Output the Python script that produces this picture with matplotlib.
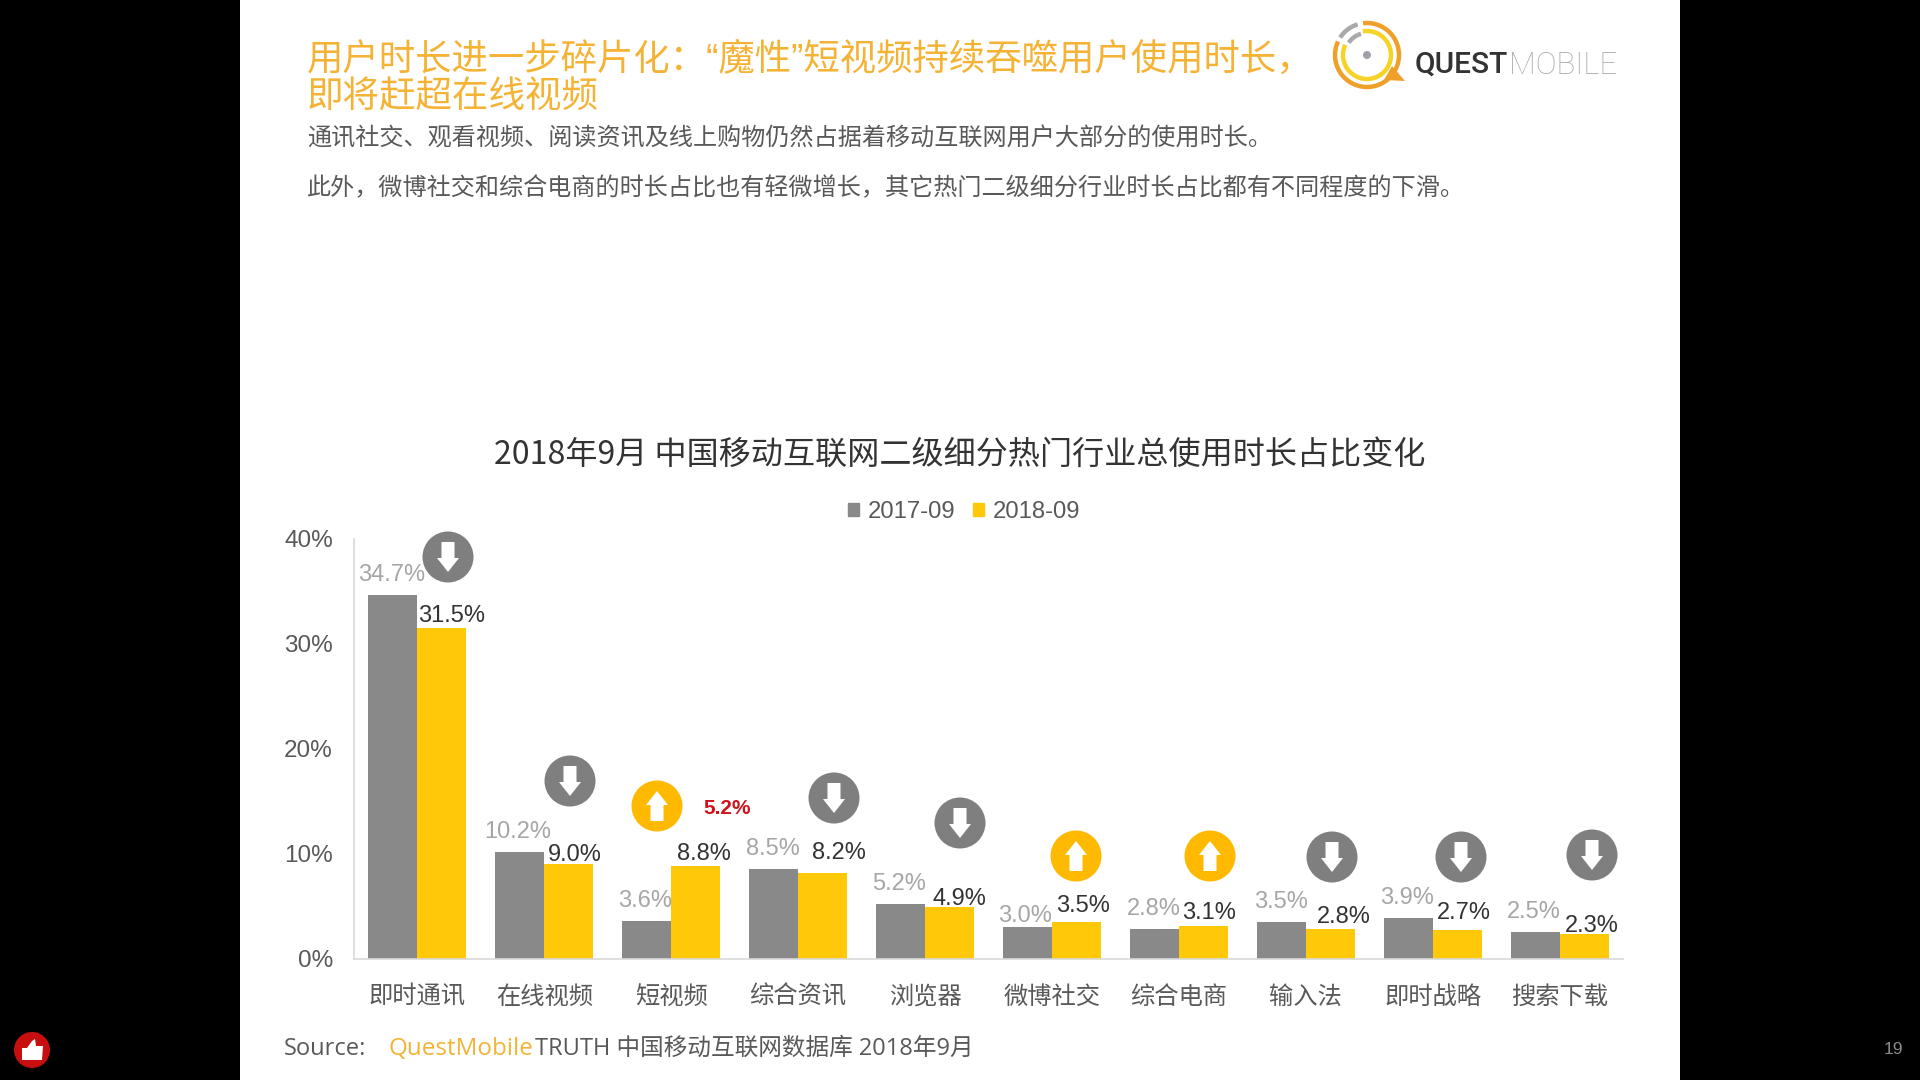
import numpy as np
import matplotlib
matplotlib.use("Agg")
import matplotlib.pyplot as plt
from matplotlib.patches import Rectangle, Circle, Polygon, Patch

CJK = ['Noto Sans CJK SC', 'Liberation Sans', 'DejaVu Sans']
plt.rcParams['font.family'] = ['Liberation Sans', 'Noto Sans CJK SC', 'DejaVu Sans']

categories = ['即时通讯', '在线视频', '短视频', '综合资讯', '浏览器', '微博社交', '综合电商', '输入法', '即时战略', '搜索下载']
values_2017 = [34.7, 10.2, 3.6, 8.5, 5.2, 3.0, 2.8, 3.5, 3.9, 2.5]
values_2018 = [31.5, 9.0, 8.8, 8.2, 4.9, 3.5, 3.1, 2.8, 2.7, 2.3]
series_names = ['2017-09', '2018-09']
y_ticks = [0, 10, 20, 30, 40]

# label offsets from the bar top, px
off17 = [(-1, 20), (-2, 20), (-1, 20), (-1, 20), (-1, 20), (-2, 11), (-1, 20), (0, 20), (-1, 20), (-1, 20)]
off18 = [(10, 12), (6, 9), (8, 12), (16, 20), (10, 8), (7, 16), (6, 13), (13, 12), (7, 17), (8, 8)]
# badge centres (px)
badges = [(448, 557), (570, 781), (657, 806), (834, 798), (960, 823), (1076, 856), (1210, 856), (1332, 857), (1461, 857), (1592, 855)]

W, H = 1920, 1080
GRAY, YEL = '#898989', '#FFC90A'
TXT = '#595959'

fig = plt.figure(figsize=(19.2, 10.8), dpi=100, facecolor='black')

bg = fig.add_axes([0, 0, 1, 1], zorder=0)
bg.set_xlim(0, W); bg.set_ylim(H, 0); bg.axis('off')
bg.add_patch(Rectangle((240, 0), 1440, 1080, color='white', lw=0))

L, R, T, B = 353.7, 1623.2, 539, 958.5
ax = fig.add_axes([L / W, 1 - B / H, (R - L) / W, (B - T) / H], zorder=1)
ax.patch.set_alpha(0)
x = np.arange(len(categories))
w = 0.386
ax.bar(x - w / 2, values_2017, w, color=GRAY, label=series_names[0])
ax.bar(x + w / 2, values_2018, w, color=YEL, label=series_names[1])
ax.set_xlim(-0.5, 9.5)
ax.set_ylim(0, 40)
ax.set_yticks(y_ticks, [f'{v}%' for v in y_ticks])
ax.set_xticks(x, categories, family=CJK)
ax.tick_params(length=0, labelsize=17.5, labelcolor=TXT)
ax.tick_params(axis='y', pad=15)
ax.tick_params(axis='x', pad=18)
for s in ('top', 'right'):
    ax.spines[s].set_visible(False)
for s in ('left', 'bottom'):
    ax.spines[s].set_color('#D9D9D9')
    ax.spines[s].set_linewidth(1.2)

for i in x:
    ax.annotate(f'{values_2017[i]:.1f}%', (i - w / 2, values_2017[i]), xytext=off17[i],
                textcoords='offset pixels', ha='center', va='center', fontsize=17, color='#A6A6A6')
    ax.annotate(f'{values_2018[i]:.1f}%', (i + w / 2, values_2018[i]), xytext=off18[i],
                textcoords='offset pixels', ha='center', va='center', fontsize=17, color='#333333')

ov = fig.add_axes([0, 0, 1, 1], zorder=2)
ov.set_xlim(0, W); ov.set_ylim(H, 0); ov.axis('off'); ov.patch.set_alpha(0)

leg = ax.legend(handles=[Patch(color=GRAY, label=series_names[0]), Patch(color=YEL, label=series_names[1])],
                ncol=2, frameon=False, fontsize=17.2, labelcolor=TXT, loc='center',
                bbox_to_anchor=(964 / W, 1 - 512 / H), bbox_transform=fig.transFigure,
                handlelength=0.48, handleheight=0.48, handletextpad=0.35, columnspacing=0.75)

# title block
ORANGE = '#F5B335'
TITLE = ['Liberation Sans', 'Noto Sans CJK SC']
ov.text(307, 60, '用户时长进一步碎片化：“魔性”短视频持续吞噬用户使用时长，', family=TITLE, fontsize=26.2, color=ORANGE, va='center', fontweight='medium')
ov.text(307, 98, '即将赶超在线视频', family=CJK, fontsize=26.3, color=ORANGE, va='center', fontweight='medium')
ov.text(307, 139, '通讯社交、观看视频、阅读资讯及线上购物仍然占据着移动互联网用户大部分的使用时长。', family=CJK, fontsize=17.35, color=TXT, va='center')
ov.text(307, 188, '此外，微博社交和综合电商的时长占比也有轻微增长，其它热门二级细分行业时长占比都有不同程度的下滑。', family=CJK, fontsize=17.35, color=TXT, va='center')
ov.text(960, 455, '2018年9月 中国移动互联网二级细分热门行业总使用时长占比变化', family=CJK, fontsize=23.1, color='#333333', ha='center', va='center', fontweight='medium')

ov.text(727, 809, '5.2%', fontsize=15, fontweight='bold', color='#D0121B', ha='center', va='center')

# source
ov.text(284, 1049, 'Source:', family=['Open Sans', 'Noto Sans CJK SC'], fontsize=17, color=TXT, va='center')
ov.text(389, 1049, 'QuestMobile', family=['Open Sans'], fontsize=17.5, color=ORANGE, va='center')
ov.text(535, 1049, 'TRUTH 中国移动互联网数据库 2018年9月', family=['Open Sans', 'Noto Sans CJK SC'], fontsize=17, color=TXT, va='center')

# page number
ov.text(1893, 1049, '19', fontsize=12.5, color='#8C8C8C', ha='center', va='center')

# direction badges
def badge(cx, cy, up):
    col = '#FFB900' if up else '#7F7F7F'
    ov.add_patch(Circle((cx, cy), 25.5, color=col, lw=0))
    s = -1 if up else 1
    hw, sw, ht = 11, 6.5, 14
    top, bot = -15, 15
    pts = [(-sw, top), (sw, top), (sw, bot - ht), (hw, bot - ht), (0, bot), (-hw, bot - ht), (-sw, bot - ht)]
    ov.add_patch(Polygon([(cx + a, cy + s * b) for a, b in pts], color='white', lw=0))

for i, (bx, by) in enumerate(badges):
    badge(bx, by, values_2018[i] > values_2017[i])

# logo
cx, cy = 1367, 55
def arc(r, a0, a1, col, lw):
    t = np.radians(np.linspace(a0, a1, 80))
    ov.plot(cx + r * np.cos(t), cy - r * np.sin(t), color=col, lw=lw, solid_capstyle='butt')
arc(32, 97, -205, '#EFA028', 3.2)
arc(24, 100, -205, '#F5D327', 3.2)
arc(32, 107, 147, '#A9A9A9', 3.2)
arc(22, 106, 146, '#A9A9A9', 3.2)
ov.add_patch(Circle((cx, cy), 4, color='#A0A0A8', lw=0))
ov.add_patch(Polygon([(1392, 66), (1405, 81), (1384, 80)], color='#EFA028', lw=0))
ov.text(1415, 65, 'QUEST', family=['Roboto'], fontsize=21.5, fontweight='medium', color='#333333', va='center')
ov.text(1509, 65, 'MOBILE', family=['Roboto'], fontsize=22.5, fontweight='light', color='#A8A8A8', va='center')

# like button
ov.add_patch(Circle((32, 1050), 18, color='#C80F0F', lw=0))
ov.add_patch(Polygon([(22, 1048), (27, 1048), (32, 1041), (35, 1039), (36, 1046), (43, 1046), (42, 1060), (22, 1060)],
                     color='white', lw=0))

fig.savefig('out.png', dpi=100, facecolor='black')
